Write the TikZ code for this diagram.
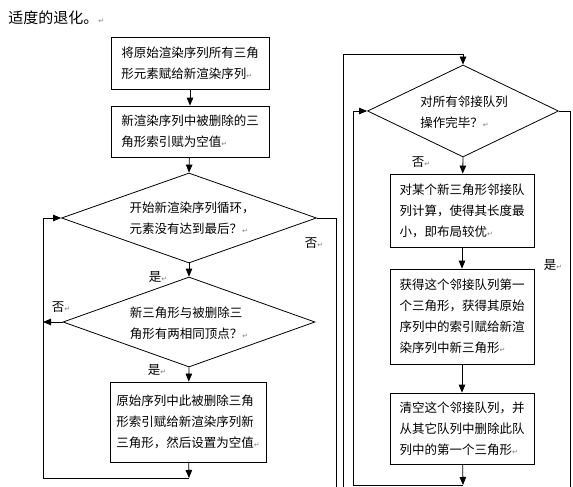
\documentclass[tikz,border=0pt]{standalone}
\usepackage{fontspec}
\setmainfont{Noto Sans CJK SC}
\newfontfamily\symfont{DejaVu Sans}
\usetikzlibrary{shapes.geometric,arrows.meta}

% Marca de párrafo
\newcommand{\pmark}{{\symfont\color{gray}\fontsize{7pt}{7pt}\selectfont ↵}}

\begin{document}
\begin{tikzpicture}[x=1pt,y=-1pt,line width=0.8pt,
    box/.style={draw,align=left,inner sep=0pt,font=\fontsize{12.5pt}{21pt}\selectfont},
    decision/.style={draw,diamond,inner sep=0pt},
    dtext/.style={align=left,inner sep=0pt,font=\fontsize{12.5pt}{21pt}\selectfont},
    lbl/.style={inner sep=0pt,font=\fontsize{12.5pt}{14pt}\selectfont},
    arr/.style={-{Triangle[length=8pt,width=6.5pt]}}]
    \useasboundingbox (0,0) rectangle (573,487);

    % Título
    \node[anchor=west,inner sep=0pt,font=\fontsize{15pt}{18pt}\selectfont] (title) at (8,18) {适度的退化。\pmark};

    % Columna izquierda
    \node[box,minimum width=158pt,minimum height=52pt] (init) at (190,63)
        {将原始渲染序列所有三角\\形元素赋给新渲染序列\pmark};
    \node[box,minimum width=158pt,minimum height=51pt] (clear) at (190,131.5)
        {新渲染序列中被删除的三\\角形索引赋为空值\pmark};
    \node[decision,minimum width=255pt,minimum height=90pt] (loop) at (189,218) {};
    \node[dtext] (loopt) at (192,218) {开始新渲染序列循环，\\元素没有达到最后？\pmark};
    \node[decision,minimum width=252pt,minimum height=90pt] (same) at (189,322) {};
    \node[dtext] (samet) at (189,323) {新三角形与被删除三\\角形有两相同顶点？\pmark};
    \node[box,minimum width=156pt,minimum height=80pt] (assign) at (188,422)
        {原始序列中此被删除三角\\形索引赋给新渲染序列新\\三角形，然后设置为空值\pmark};

    % Columna derecha
    \node[decision,minimum width=191pt,minimum height=92pt] (done) at (463,111) {};
    \node[dtext] (donet) at (464,112) {对所有邻接队列\\操作完毕？\pmark};
    \node[box,minimum width=144pt,minimum height=73pt] (opt) at (462,210.5)
        {对某个新三角形邻接队\\列计算，使得其长度最\\小，即布局较优\pmark};
    \node[box,minimum width=144pt,minimum height=95pt] (first) at (462,316.5)
        {获得这个邻接队列第一\\个三角形，获得其原始\\序列中的索引赋给新渲\\染序列中新三角形\pmark};
    \node[box,minimum width=144pt,minimum height=71pt] (empty) at (462,428.5)
        {清空这个邻接队列，并\\从其它队列中删除此队\\列中的第一个三角形\pmark};

    % Puntos auxiliares
    \coordinate (loopj) at (189,478);
    \coordinate (loopbl) at (43,478);
    \coordinate (loopout) at (336,487);
    \coordinate (rin) at (343,487);
    \coordinate (rtop) at (343,54);
    \coordinate (donej) at (463,485);
    \coordinate (donebl) at (353,485);
    \coordinate (doneout) at (570,487);

    % Flechas izquierda
    \draw[arr] (init) -- (clear);
    \draw[arr] (clear) -- (loop.north);
    \draw[arr] (loop.south) -- (same.north);
    \draw[arr] (same.south) -- (assign);
    \draw[arr] (assign) -- (loopj);
    \draw[arr] (loopj) -- (loopbl) |- (loop.west);
    \draw[arr] (same.west) -- (same.west -| loopbl);
    \draw (loop.east) -| (loopout);

    % Flechas derecha
    \draw[arr] (rin) -- (rtop) -| (done.north);
    \draw[arr] (done.south) -- (opt);
    \draw[arr] (opt) -- (first);
    \draw[arr] (first) -- (empty);
    \draw[arr] (empty) -- (donej);
    \draw[arr] (donej) -- (donebl) |- (done.west);
    \draw (done.east) -| (doneout);

    % Etiquetas
    \node[lbl] (l1) at (314,243) {否\pmark};
    \node[lbl] (l2) at (158,277) {是\pmark};
    \node[lbl] (l3) at (61,307) {否\pmark};
    \node[lbl] (l4) at (157,370) {是\pmark};
    \node[lbl] (l5) at (421,162) {否\pmark};
    \node[lbl] (l6) at (553,265) {是\pmark};
\end{tikzpicture}
\end{document}
